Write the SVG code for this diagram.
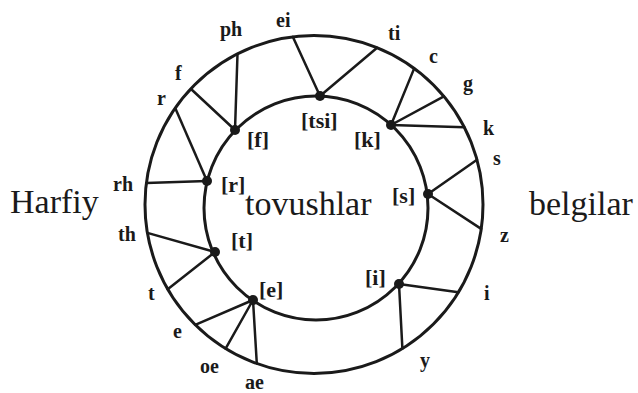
<svg xmlns="http://www.w3.org/2000/svg" width="638" height="393" viewBox="0 0 638 393">
<style>
.ring{fill:none;stroke:#1a1a1a;stroke-width:3}
.ln{stroke:#1a1a1a;stroke-width:2.5;fill:none;stroke-linecap:round}
.dot{fill:#1a1a1a}
.big{font-family:"Liberation Serif",serif;font-size:34px;fill:#1a1a1a}
.lb{font-family:"Liberation Serif",serif;font-size:20px;font-weight:bold;fill:#1a1a1a}
.ph{font-family:"Liberation Serif",serif;font-size:22px;font-weight:bold;fill:#1a1a1a}
</style>
<rect width="638" height="393" fill="#fff"/>
<g id="rings">
<circle class="ring" cx="314" cy="204.5" r="169"/>
<circle class="ring" cx="316" cy="208" r="112"/>
</g>
<g id="connectors">
<line class="ln" x1="235" y1="130" x2="237.5" y2="54"/>
<line class="ln" x1="235" y1="130" x2="191" y2="89"/>
<line class="ln" x1="207" y1="181" x2="175.2" y2="108.1"/>
<line class="ln" x1="207" y1="181" x2="146.4" y2="183"/>
<line class="ln" x1="320" y1="96" x2="292.8" y2="36.8"/>
<line class="ln" x1="320" y1="96" x2="377.1" y2="47.8"/>
<line class="ln" x1="391" y1="125" x2="414.2" y2="68.4"/>
<line class="ln" x1="391" y1="125" x2="443.9" y2="96.4"/>
<line class="ln" x1="391" y1="125" x2="464.3" y2="127.3"/>
<line class="ln" x1="428" y1="194" x2="477" y2="159.7"/>
<line class="ln" x1="428" y1="194" x2="481.2" y2="228.9"/>
<line class="ln" x1="399" y1="284" x2="458.4" y2="292.3"/>
<line class="ln" x1="399" y1="284" x2="402.4" y2="348.6"/>
<line class="ln" x1="215" y1="252" x2="147.4" y2="232.9"/>
<line class="ln" x1="215" y1="252" x2="167.7" y2="289.2"/>
<line class="ln" x1="253" y1="300" x2="195.2" y2="324.8"/>
<line class="ln" x1="253" y1="300" x2="225.6" y2="348.6"/>
<line class="ln" x1="253" y1="300" x2="256.8" y2="363.5"/>
</g>
<g id="node-f"><circle class="dot" cx="235" cy="130" r="5"/><text class="ph" x="247" y="147">[f]</text></g>
<g id="node-r"><circle class="dot" cx="207" cy="181" r="5"/><text class="ph" x="221" y="192">[r]</text></g>
<g id="node-tsi"><circle class="dot" cx="320" cy="96" r="5"/><text class="ph" x="301" y="128">[tsi]</text></g>
<g id="node-k"><circle class="dot" cx="391" cy="125" r="5"/><text class="ph" x="354" y="147">[k]</text></g>
<g id="node-s"><circle class="dot" cx="428" cy="194" r="5"/><text class="ph" x="392" y="203">[s]</text></g>
<g id="node-i"><circle class="dot" cx="399" cy="284" r="5"/><text class="ph" x="365" y="285">[i]</text></g>
<g id="node-t"><circle class="dot" cx="215" cy="252" r="5"/><text class="ph" x="231" y="248">[t]</text></g>
<g id="node-e"><circle class="dot" cx="253" cy="300" r="5"/><text class="ph" x="259" y="297">[e]</text></g>
<g id="letters">
<text class="lb" x="220" y="36">ph</text>
<text class="lb" x="276" y="27">ei</text>
<text class="lb" x="175" y="80">f</text>
<text class="lb" x="157" y="105">r</text>
<text class="lb" x="113" y="191">rh</text>
<text class="lb" x="118" y="241">th</text>
<text class="lb" x="148" y="300">t</text>
<text class="lb" x="173" y="338">e</text>
<text class="lb" x="200" y="373">oe</text>
<text class="lb" x="245" y="389">ae</text>
<text class="lb" x="388" y="40">ti</text>
<text class="lb" x="429" y="63">c</text>
<text class="lb" x="463" y="90">g</text>
<text class="lb" x="483" y="135">k</text>
<text class="lb" x="493" y="165">s</text>
<text class="lb" x="500" y="242">z</text>
<text class="lb" x="484" y="300">i</text>
<text class="lb" x="420" y="367">y</text>
</g>
<g id="titles">
<text class="big" x="10" y="213">Harfiy</text>
<text class="big" x="245" y="215">tovushlar</text>
<text class="big" x="529" y="215">belgilar</text>
</g>
</svg>
